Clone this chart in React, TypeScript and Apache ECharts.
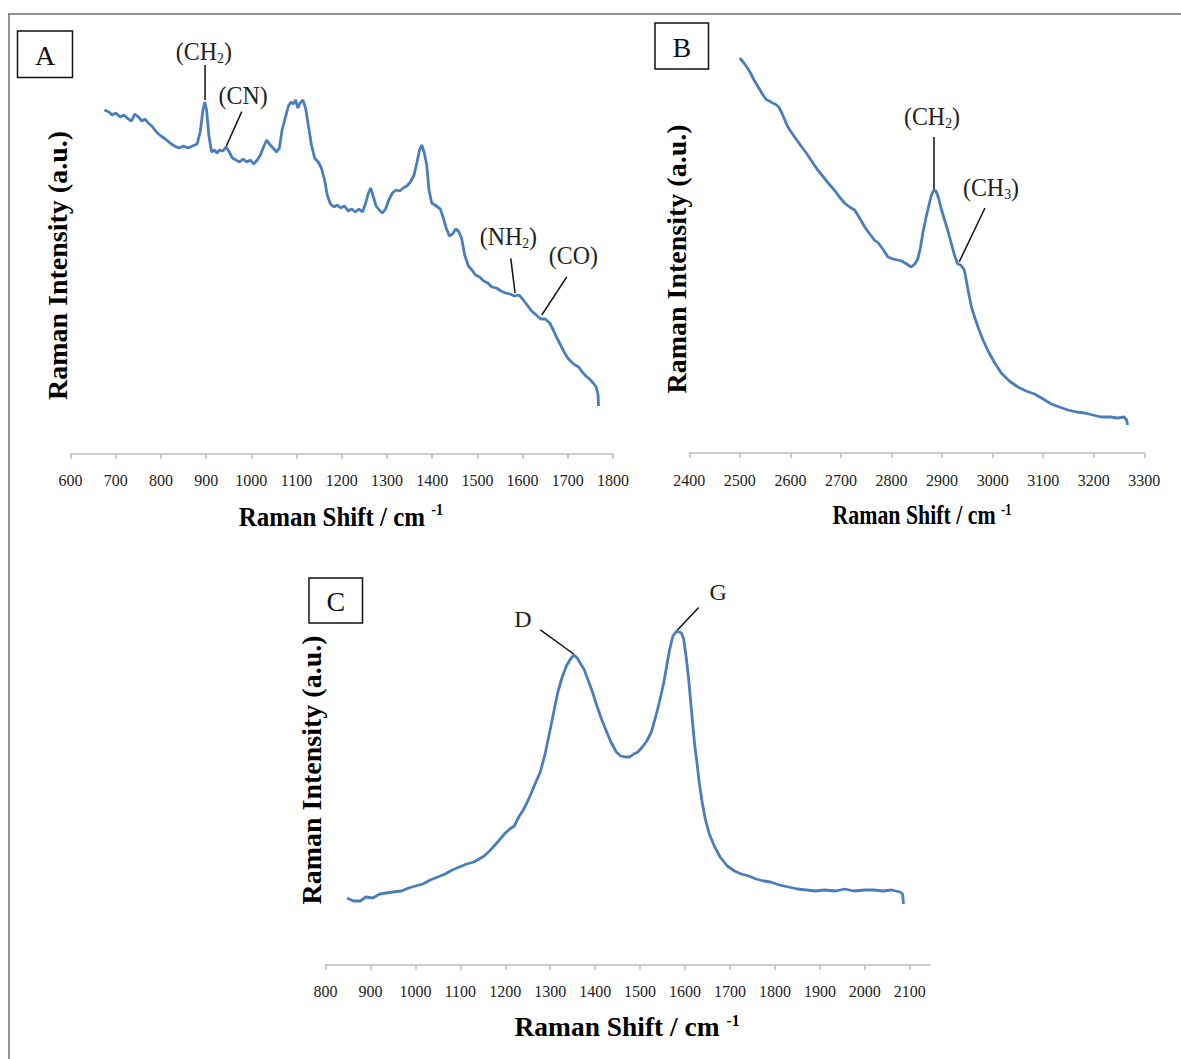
import React, { useEffect, useRef } from "react";
import * as echarts from "echarts";

// ---------- tick labels ----------
const ticksA = [600, 700, 800, 900, 1000, 1100, 1200, 1300, 1400, 1500, 1600, 1700, 1800];
const ticksB = [2400, 2500, 2600, 2700, 2800, 2900, 3000, 3100, 3200, 3300];
const ticksC = [800, 900, 1000, 1100, 1200, 1300, 1400, 1500, 1600, 1700, 1800, 1900, 2000, 2100];

// ---------- panel A : Raman shift (cm-1) / intensity (a.u.) ----------
const shiftA = [
  675, 685, 692, 700, 710, 718, 728, 735, 742, 750, 758, 765, 772, 780, 790, 800, 810, 820, 830, 840,
  850, 860, 870, 880, 887, 893, 897, 901, 906, 912, 918, 924, 930, 937, 944, 950, 958, 966, 974, 982,
  990, 998, 1005, 1013, 1020, 1027, 1034, 1040, 1048, 1056, 1062, 1068, 1075, 1082, 1088, 1093, 1098,
  1103, 1108, 1114, 1120, 1126, 1133, 1140, 1148, 1155, 1162, 1168, 1175, 1183, 1190, 1198, 1206, 1214,
  1222, 1230, 1238, 1246, 1253, 1259, 1264, 1270, 1276, 1283, 1290, 1297, 1304, 1312, 1320, 1328, 1336,
  1344, 1352, 1360, 1366, 1372, 1377, 1382, 1388, 1393, 1399, 1406, 1412, 1418, 1424, 1431, 1438, 1445,
  1452, 1458, 1465, 1472, 1480, 1488, 1496, 1505, 1514, 1523, 1532, 1542, 1552, 1562, 1572, 1582, 1592,
  1600, 1610, 1620, 1630, 1640, 1650, 1660, 1668, 1676, 1684, 1692, 1700, 1708, 1716, 1724, 1732, 1740,
  1748, 1756, 1763, 1767, 1768,
];
const intensityA = [
  86.0, 85.5, 84.75, 85.25, 84.25, 84.75, 83.75, 83.25, 85.0, 84.25, 83.25, 83.75, 82.75, 82.0, 80.5, 79.5,
  78.75, 77.75, 77.0, 76.5, 77.0, 76.5, 77.0, 77.5, 80.5, 86.0, 88.0, 86.0, 79.75, 75.5, 76.0, 75.25, 76.0,
  75.75, 76.75, 75.75, 74.0, 73.5, 73.0, 73.75, 73.0, 73.5, 72.5, 73.5, 74.75, 76.75, 78.5, 77.5, 76.5,
  75.5, 76.5, 81.0, 84.0, 87.0, 88.0, 87.5, 88.5, 86.5, 87.75, 88.5, 86.5, 82.25, 77.25, 74.0, 73.0, 71.5,
  68.5, 64.75, 62.5, 61.75, 62.25, 61.5, 62.0, 60.75, 61.25, 60.5, 61.25, 60.5, 62.75, 65.25, 66.5, 64.25,
  62.0, 61.0, 60.25, 61.25, 63.5, 65.25, 66.0, 65.75, 66.5, 67.0, 68.0, 69.75, 72.75, 76.0, 77.25, 75.5,
  72.25, 66.0, 62.75, 62.25, 61.75, 61.25, 59.25, 56.5, 54.5, 55.0, 56.25, 55.75, 54.0, 49.75, 47.0, 46.0,
  44.75, 44.25, 43.25, 42.75, 41.75, 41.5, 40.75, 40.25, 40.0, 39.5, 39.75, 38.75, 37.25, 35.75, 34.75,
  33.75, 33.75, 32.75, 31.0, 29.0, 27.25, 25.5, 24.0, 23.0, 22.25, 21.75, 20.5, 19.5, 18.75, 17.75, 16.75,
  14.75, 12.0,
];

// ---------- panel B ----------
const shiftB = [
  2500, 2508, 2515, 2521, 2528, 2535, 2541, 2547, 2553, 2559, 2564, 2570, 2577, 2583, 2589, 2594, 2600,
  2607, 2614, 2621, 2630, 2638, 2646, 2654, 2662, 2670, 2678, 2687, 2697, 2707, 2717, 2727, 2737, 2747,
  2757, 2766, 2774, 2784, 2793, 2803, 2812, 2820, 2830, 2839, 2846, 2852, 2857, 2862, 2868, 2874, 2879,
  2884, 2888, 2893, 2899, 2905, 2911, 2918, 2925, 2931, 2937, 2944, 2951, 2958, 2965, 2971, 2981, 2991,
  3003, 3017, 3033, 3050, 3066, 3083, 3100, 3116, 3132, 3149, 3166, 3182, 3198, 3215, 3232, 3248, 3260,
  3265, 3267,
];
const intensityB = [
  98.75, 97.5, 96.25, 95.0, 93.25, 91.75, 90.5, 89.25, 88.25, 88.0, 87.5, 87.25, 86.5, 85.0, 83.25, 81.75,
  80.5, 79.25, 78.0, 76.75, 75.25, 73.75, 72.25, 70.75, 69.5, 68.25, 67.0, 65.75, 64.0, 62.5, 61.5, 60.75,
  58.75, 56.5, 54.75, 53.25, 52.5, 50.75, 49.0, 48.5, 48.25, 48.0, 47.25, 46.5, 47.25, 48.5, 51.25, 55.0,
  58.75, 62.0, 64.5, 65.75, 65.5, 63.75, 60.75, 58.25, 55.75, 52.5, 49.25, 47.25, 47.0, 45.75, 41.0, 36.5,
  33.75, 31.5, 28.25, 25.5, 22.75, 20.0, 18.0, 16.5, 15.5, 14.75, 13.5, 12.25, 11.5, 10.75, 10.25, 10.0,
  9.5, 9.0, 9.0, 8.75, 9.0, 8.25, 7.0,
];

// ---------- panel C ----------
const shiftC = [
  848, 862, 877, 890, 905, 921, 935, 950, 969, 985, 1000, 1017, 1033, 1050, 1066, 1082, 1098, 1114, 1130,
  1142, 1153, 1165, 1175, 1185, 1200, 1210, 1220, 1230, 1240, 1249, 1258, 1268, 1278, 1288, 1297, 1307,
  1317, 1326, 1336, 1345, 1353, 1360, 1368, 1375, 1385, 1394, 1404, 1414, 1423, 1435, 1447, 1457, 1467,
  1477, 1486, 1495, 1505, 1515, 1525, 1532, 1539, 1546, 1552, 1558, 1565, 1573, 1578, 1582, 1587, 1592,
  1597, 1603, 1608, 1613, 1618, 1622, 1626, 1632, 1638, 1645, 1654, 1665, 1678, 1694, 1710, 1725, 1742,
  1758, 1775, 1790, 1810, 1830, 1850, 1870, 1890, 1910, 1935, 1955, 1975, 2000, 2020, 2040, 2060, 2078,
  2084, 2086,
];
const intensityC = [
  16.75, 16.0, 16.0, 17.0, 16.75, 17.75, 18.0, 18.25, 18.5, 19.25, 19.75, 20.25, 21.25, 22.0, 22.75, 23.75,
  24.5, 25.25, 25.75, 26.5, 27.25, 28.5, 29.75, 31.0, 33.0, 34.0, 34.75, 37.0, 38.75, 40.75, 43.0, 45.75,
  48.25, 52.5, 57.25, 62.75, 68.25, 71.75, 74.75, 76.5, 77.5, 76.75, 75.25, 74.0, 71.0, 68.25, 64.75, 61.5,
  59.0, 55.75, 53.25, 52.25, 52.0, 52.0, 52.75, 53.25, 54.5, 56.0, 58.25, 61.0, 64.0, 67.25, 70.25, 74.0,
  78.5, 82.25, 83.0, 83.5, 83.25, 83.0, 81.5, 76.5, 71.5, 65.25, 59.0, 54.5, 51.0, 45.25, 40.75, 36.5,
  32.75, 29.75, 27.0, 24.75, 23.5, 22.75, 22.25, 21.5, 21.0, 20.75, 20.0, 19.5, 19.0, 18.75, 18.5, 18.75,
  18.5, 19.0, 18.5, 18.75, 18.75, 18.5, 18.75, 18.25, 17.75, 15.25,
];

// ---------- peak annotations (data coordinates: shift, intensity) ----------
// parts: even index = normal text, odd index = subscript
const annotationsA = [
  { parts: ["(CH", "2", ")"], at: [895, 100.75], from: [897.6, 97.25], to: [897.6, 88.5] },
  { parts: ["(CN)"], at: [982, 89.75], from: [978.8, 85.6], to: [944, 76.8] },
  { parts: ["(NH", "2", ")"], at: [1568.6, 54.5], from: [1573.9, 48.9], to: [1583.4, 40.2] },
  { parts: ["(CO)"], at: [1712.4, 49.75], from: [1697.8, 44.3], to: [1642.5, 34.75] },
];
const annotationsB = [
  { parts: ["(CH", "2", ")"], at: [2880, 84.25], from: [2884, 79], to: [2884, 65.75] },
  { parts: ["(CH", "3", ")"], at: [2996.7, 66.5], from: [2984.8, 61.25], to: [2934, 47.8] },
];
const annotationsC = [
  { parts: ["D"], at: [1239, 86.5], from: [1278, 83.8], to: [1352.3, 77.75] },
  { parts: ["G"], at: [1673.8, 93.2], from: [1630.4, 89.4], to: [1582, 83.6] },
];

const SERIF = "'Times New Roman', 'Liberation Serif', serif";
const LINE_COLOR = "#4a7ebb";
const AXIS_COLOR = "#bdbdbd";

const zip = (xs: number[], ys: number[]) => xs.map((x, i) => [x, ys[i]]);

function xAxisOf(gridIndex: number, min: number, max: number, ticks: number[], margin: number) {
  return {
    type: "value",
    gridIndex,
    min,
    max,
    interval: 100,
    axisLine: { show: true, onZero: false, lineStyle: { color: AXIS_COLOR, width: 1.5 } },
    axisTick: { show: true, length: 5, customValues: ticks, lineStyle: { color: AXIS_COLOR, width: 1.5 } },
    axisLabel: {
      show: true,
      customValues: ticks,
      margin,
      fontSize: 16,
      fontFamily: SERIF,
      color: "#222",
      formatter: (v: number) => String(v),
    },
    splitLine: { show: false },
  };
}

function yAxisOf(gridIndex: number) {
  return { type: "value", gridIndex, min: 0, max: 100, show: false, splitLine: { show: false } };
}

function seriesOf(i: number, xs: number[], ys: number[]) {
  return {
    type: "line",
    xAxisIndex: i,
    yAxisIndex: i,
    data: zip(xs, ys),
    symbol: "none",
    showSymbol: false,
    silent: true,
    lineStyle: { color: LINE_COLOR, width: 2.8 },
  };
}

export default function App() {
  const ref = useRef<HTMLDivElement>(null);

  useEffect(() => {
    if (!ref.current) return;
    const chart = echarts.init(ref.current, undefined, { renderer: "svg" });

    const option: any = {
      animation: false,
      backgroundColor: "#ffffff",
      grid: [
        { left: 70.5, right: 568, top: 54, bottom: 605 },
        { left: 689.3, right: 36.7, top: 53, bottom: 606 },
        { left: 325.5, right: 251, top: 565, bottom: 94 },
      ],
      xAxis: [
        xAxisOf(0, 600, 1800, ticksA, 18.5),
        xAxisOf(1, 2400, 3300, ticksB, 19),
        xAxisOf(2, 800, 2145, ticksC, 18),
      ],
      yAxis: [yAxisOf(0), yAxisOf(1), yAxisOf(2)],
      series: [seriesOf(0, shiftA, intensityA), seriesOf(1, shiftB, intensityB), seriesOf(2, shiftC, intensityC)],
    };
    chart.setOption(option);

    const toPx = (g: number, p: number[]) => chart.convertToPixel({ gridIndex: g } as any, p) as number[];

    const canvas = document.createElement("canvas");
    const ctx = canvas.getContext("2d");
    const measure = (text: string, size: number) => {
      if (!ctx) return text.length * size * 0.5;
      ctx.font = `${size}px ${SERIF}`;
      return ctx.measureText(text).width;
    };

    const elements: any[] = [];

    // outer frame (top and left edges)
    elements.push({ type: "line", shape: { x1: 8, y1: 14, x2: 1181, y2: 14 }, style: { stroke: "#6e6e6e", lineWidth: 1.5 }, silent: true });
    elements.push({ type: "line", shape: { x1: 9, y1: 14, x2: 9, y2: 1059 }, style: { stroke: "#6e6e6e", lineWidth: 1.5 }, silent: true });

    // panel letter boxes
    const boxes = [
      { t: "A", x: 17.5, y: 31, w: 55, h: 46.5 },
      { t: "B", x: 655, y: 23, w: 53.5, h: 46 },
      { t: "C", x: 309, y: 578, w: 53.5, h: 45 },
    ];
    boxes.forEach((b) => {
      elements.push({ type: "rect", shape: { x: b.x, y: b.y, width: b.w, height: b.h }, style: { fill: "#fff", stroke: "#111", lineWidth: 1.5 }, silent: true });
      elements.push({
        type: "text",
        x: b.x + b.w / 2,
        y: b.y + b.h / 2 + 1,
        style: { text: b.t, fontSize: 28, fontFamily: SERIF, fill: "#111", align: "center", verticalAlign: "middle" },
        silent: true,
      });
    });

    // x-axis titles
    const xTitles = [
      { x: 341, y: 516, sx: 0.89 },
      { x: 922, y: 515, sx: 0.78 },
      { x: 627, y: 1026, sx: 0.98 },
    ];
    xTitles.forEach((t) => {
      elements.push({
        type: "text",
        x: t.x,
        y: t.y,
        scaleX: t.sx,
        style: {
          text: "Raman Shift / cm {p|-1}",
          fontSize: 28,
          fontWeight: "bold",
          fontFamily: SERIF,
          fill: "#000",
          align: "center",
          verticalAlign: "middle",
          rich: {
            p: { fontSize: 16, fontWeight: "bold", fontFamily: SERIF, fill: "#000", verticalAlign: "top", lineHeight: 12 },
          },
        },
        silent: true,
      });
    });

    // y-axis titles
    const yTitles = [
      { x: 57, y: 265.5 },
      { x: 676, y: 259 },
      { x: 311.5, y: 770 },
    ];
    yTitles.forEach((t) => {
      elements.push({
        type: "text",
        x: t.x,
        y: t.y,
        rotation: Math.PI / 2,
        style: {
          text: "Raman Intensity (a.u.)",
          fontSize: 28,
          fontWeight: "bold",
          fontFamily: SERIF,
          fill: "#000",
          align: "center",
          verticalAlign: "middle",
        },
        silent: true,
      });
    });

    // peak annotations
    const SUB_SIZE = 15;
    const addAnn = (g: number, list: any[], fontSize: number, sx: number) => {
      list.forEach((a) => {
        const p = toPx(g, a.at);
        const f = toPx(g, a.from);
        const t = toPx(g, a.to);
        elements.push({
          type: "line",
          shape: { x1: f[0], y1: f[1], x2: t[0], y2: t[1] },
          style: { stroke: "#111", lineWidth: 1.5 },
          silent: true,
        });
        const parts: string[] = a.parts;
        const widths = parts.map((s, i) => measure(s, i % 2 === 1 ? SUB_SIZE : fontSize));
        const total = widths.reduce((s, w) => s + w, 0);
        let cx = -total / 2;
        const children: any[] = [];
        parts.forEach((s, i) => {
          const isSub = i % 2 === 1;
          children.push({
            type: "text",
            x: cx,
            y: isSub ? 7 : 0,
            style: {
              text: s,
              fontSize: isSub ? SUB_SIZE : fontSize,
              fontFamily: SERIF,
              fill: "#222",
              align: "left",
              verticalAlign: "middle",
            },
            silent: true,
          });
          cx += widths[i];
        });
        elements.push({ type: "group", x: p[0], y: p[1], scaleX: sx, children, silent: true });
      });
    };
    addAnn(0, annotationsA, 26, 0.92);
    addAnn(1, annotationsB, 26, 0.92);
    addAnn(2, annotationsC, 24, 1);

    chart.setOption({ graphic: { elements } });

    return () => {
      chart.dispose();
    };
  }, []);

  return <div ref={ref} style={{ position: "absolute", left: 0, top: 0, width: 1181, height: 1059, background: "#fff" }} />;
}
